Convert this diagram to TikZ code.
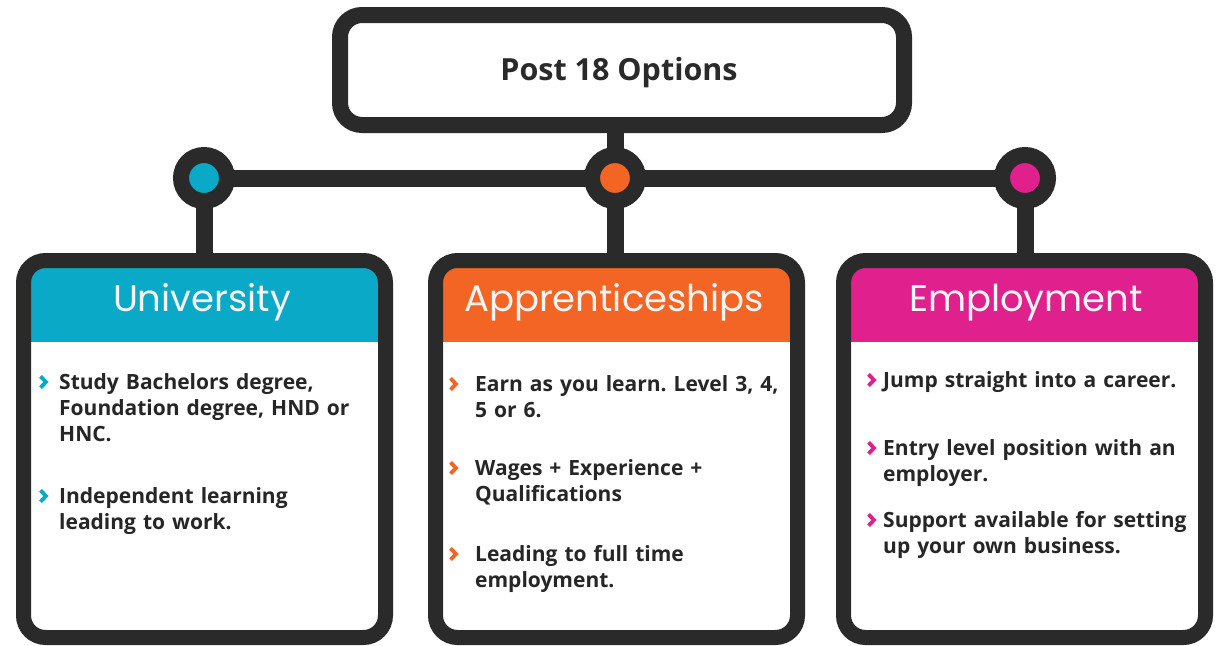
\documentclass[tikz,border=0pt]{standalone}
\usepackage{fontspec}
\setmainfont{Open Sans}
\newfontfamily\hdrfont{Poppins}
\usetikzlibrary{backgrounds}
\definecolor{ink}{HTML}{2A2A2A}
\definecolor{unicol}{HTML}{0AA9C7}
\definecolor{appcol}{HTML}{F26524}
\definecolor{empcol}{HTML}{E0208C}
\definecolor{hdrtext}{HTML}{F4F4F4}
\newcommand\bulletmark[3]{%
  \draw[chevline=#2] ([shift={(#3-5.5,5.5)}]#1.north west) -- ([shift={(#3,11.2)}]#1.north west) -- ([shift={(#3-5.5,16.9)}]#1.north west);}
\begin{document}
\frenchspacing
\begin{tikzpicture}[x=1pt,y=-1pt,
  panel/.style={draw=ink, line width=15pt, rounded corners=22pt,
    minimum width=362pt, minimum height=377pt, inner sep=0pt, fill=white,
    path picture={\fill[#1, sharp corners] ([yshift=10pt]path picture bounding box.north west)
      rectangle ([yshift=-81.5pt]path picture bounding box.north east);}},
  titlebox/.style={draw=ink, line width=16pt, rounded corners=22pt,
    minimum width=564pt, minimum height=110pt, inner sep=0pt, fill=white},
  hub/.style={circle, draw=ink, line width=16pt, minimum size=46pt, inner sep=0pt, fill=#1},
  link/.style={draw=ink, line width=17pt},
  hdr/.style={anchor=base, inner sep=0pt, text=hdrtext, font=\hdrfont\fontsize{37}{40}\selectfont},
  item/.style={anchor=north west, inner sep=0pt, text width=360pt, align=left,
    text=ink!90!black, font=\fontsize{21}{26}\selectfont\bfseries},
  chevline/.style={draw=#1, line width=3.8pt, line join=miter}
]
\useasboundingbox (0,0) rectangle (1222,645);

% title
\node[titlebox] (top) at (622,70) {};
\node[anchor=base, inner sep=0pt, text=ink, font=\fontsize{30.5}{34}\selectfont\bfseries] (title) at (619,80) {Post 18 Options};

% panels
\node[panel=unicol] (uni) at (204.5,449) {};
\node[panel=appcol] (app) at (616.5,449) {};
\node[panel=empcol] (emp) at (1024.5,449) {};

% hubs
\node[hub=unicol] (c1) at (204,178) {};
\node[hub=appcol] (c2) at (615,178) {};
\node[hub=empcol] (c3) at (1025,178) {};

% connectors
\begin{scope}[on background layer]
\fill[white] (0,0) rectangle (1222,645);
\draw[link] (c2.center |- top.south) -- (c2.center);
\draw[link] (c1.center) -- (c3.center);
\draw[link] (c1.center) -- (c1.center |- uni.north);
\draw[link] (c2.center) -- (c2.center |- app.north);
\draw[link] (c3.center) -- (c3.center |- emp.north);
\end{scope}

% headers
\node[hdr] (uniH) at (202,311) {University};
\node[hdr] (appH) at (614,311) {Apprenticeships};
\node[hdr] (empH) at (1026,311) {Employment};

% university items
\node[item] (u1) at (59,370.8) {\strut Study Bachelors degree,\\Foundation degree, HND or\\HNC.};
\node[item] (u2) at (59,484.8) {\strut Independent learning\\leading to work.};
% apprenticeship items
\node[item] (a1) at (475,372.8) {\strut Earn as you learn. Level 3, 4,\\5 or 6.};
\node[item] (a2) at (475,456.8) {\strut Wages + Experience +\\Qualifications};
\node[item] (a3) at (475,542.8) {\strut Leading to full time\\employment.};
% employment items
\node[item] (e1) at (883,368.8) {\strut Jump straight into a career.};
\node[item] (e2) at (883,436.8) {\strut Entry level position with an\\employer.};
\node[item] (e3) at (883,508.8) {\strut Support available for setting\\up your own business.};

\bulletmark{u1}{unicol}{-13}
\bulletmark{u2}{unicol}{-13}
\bulletmark{a1}{appcol}{-19}
\bulletmark{a2}{appcol}{-19}
\bulletmark{a3}{appcol}{-19}
\bulletmark{e1}{empcol}{-9}
\bulletmark{e2}{empcol}{-9}
\bulletmark{e3}{empcol}{-9}
\end{tikzpicture}
\end{document}
